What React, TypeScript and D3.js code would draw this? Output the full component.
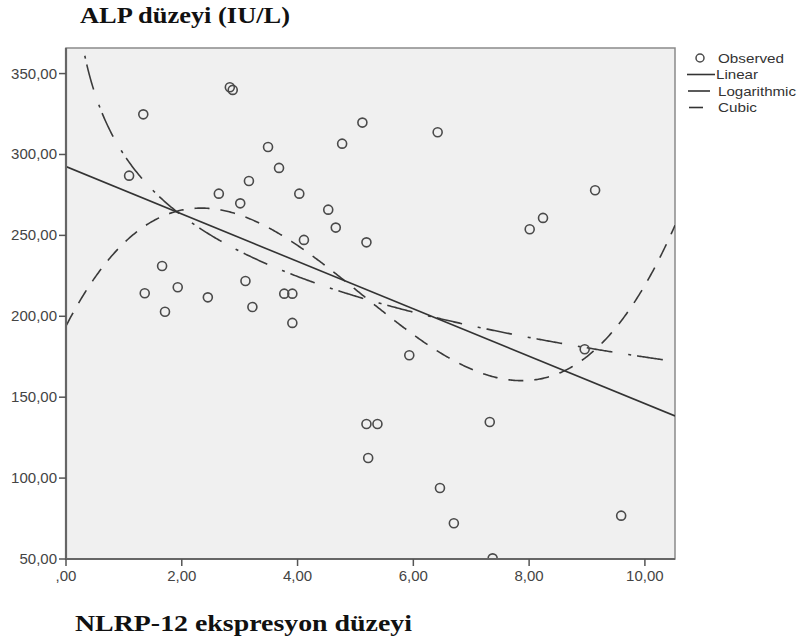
import React from "react";
import * as d3 from "d3";

// Observed points: NLRP-12 expression (x) vs ALP level (y)
const obsX = [1.335, 2.83, 2.88, 5.12, 3.49, 4.77, 3.68, 1.09, 3.16, 2.64, 4.03, 3.01, 4.53, 4.66, 4.11, 5.19, 1.66, 1.36, 1.93, 1.71, 2.45, 3.10, 3.22, 3.77, 3.91, 3.91, 5.19, 5.38, 6.42, 9.14, 8.24, 8.01, 5.93, 8.96, 7.32, 6.46, 6.70, 9.59, 7.37, 5.22];
const obsY = [324.8, 341.5, 339.9, 319.7, 304.6, 306.7, 291.7, 286.9, 283.6, 275.8, 275.8, 269.8, 265.9, 254.8, 247.2, 245.7, 231.1, 214.2, 217.9, 202.8, 211.7, 221.8, 205.7, 214, 214, 195.9, 133.4, 133.4, 313.7, 277.9, 260.8, 253.8, 175.9, 179.6, 134.7, 93.9, 72.1, 76.8, 50.4, 112.4];

// Fitted model coefficients
const linearCoef = [292.5, -14.65]; // a + b x
const logCoef = [299.9, -54.33]; // a + b ln x
const cubicCoef = [194, 69.22, -19.21, 1.254]; // c0 + c1 x + c2 x^2 + c3 x^3

const yTicks = [50, 100, 150, 200, 250, 300, 350];
const xTicks = [0, 2, 4, 6, 8, 10];
const legendLabels = ["Observed", "Linear", "Logarithmic", "Cubic"];

const fmt = (v: number) => {
  const s = v.toFixed(2).replace(".", ",");
  return s.startsWith("0,") ? s.slice(1) : s;
};

export default function App() {
  const W = 798, H = 640;
  const L = 66, R = 675, T = 48, B = 559;
  const x = d3.scaleLinear().domain([0, 10.52]).range([L, R]);
  const y = d3.scaleLinear().domain([50, 365.8]).range([B, T]);

  const samples = d3.range(0.02, 10.52 + 0.001, 0.02);
  const line = d3
    .line<[number, number]>()
    .x((d) => x(d[0]))
    .y((d) => y(d[1]));

  const linPath = line([[0, linearCoef[0]], [10.52, linearCoef[0] + linearCoef[1] * 10.52]]) || "";
  const logPath = line(samples.map((v) => [v, logCoef[0] + logCoef[1] * Math.log(v)] as [number, number])) || "";
  const cubPath =
    line(
      [0, ...samples].map(
        (v) => [v, cubicCoef[0] + cubicCoef[1] * v + cubicCoef[2] * v * v + cubicCoef[3] * v * v * v] as [number, number]
      )
    ) || "";

  const tickFont = "'Liberation Sans', Arial, sans-serif";
  const legendY = [58, 74.5, 91, 107.5];
  const legendLen = [66, 42, 78, 39];

  return (
    <svg width={W} height={H} style={{ position: "absolute", left: 0, top: 0, background: "#fff" }}>
      <defs>
        <clipPath id="plotclip">
          <rect x={L} y={T} width={R - L} height={B - T} />
        </clipPath>
      </defs>
      <rect x={0} y={0} width={W} height={H} fill="#fff" />
      <text x={80} y={23} fontFamily="'Liberation Serif', 'Times New Roman', serif" fontWeight="bold" fontSize={23} fill="#111" textLength={210} lengthAdjust="spacingAndGlyphs">
        ALP düzeyi (IU/L)
      </text>
      <text x={75} y={631} fontFamily="'Liberation Serif', 'Times New Roman', serif" fontWeight="bold" fontSize={24} fill="#111" textLength={337} lengthAdjust="spacingAndGlyphs">
        NLRP-12 ekspresyon düzeyi
      </text>

      <rect x={L} y={T} width={R - L} height={B - T} fill="#f0f0f0" stroke="#8a8a8a" strokeWidth={1.5} />

      <g clipPath="url(#plotclip)">
        <path d={cubPath} fill="none" stroke="#3a3a3a" strokeWidth={1.6} strokeDasharray="15,11" />
        <path d={logPath} fill="none" stroke="#3a3a3a" strokeWidth={1.6} strokeDasharray="26,16,3,6" />
        <path d={linPath} fill="none" stroke="#333" strokeWidth={1.6} />
        {obsX.map((vx, i) => (
          <circle key={i} cx={x(vx)} cy={y(obsY[i])} r={4.5} fill="none" stroke="#4a4a4a" strokeWidth={1.6} />
        ))}
      </g>

      {/* axes */}
      <line x1={L} y1={T} x2={L} y2={B + 1} stroke="#666" strokeWidth={2.2} />
      <line x1={L - 1} y1={B} x2={R} y2={B} stroke="#666" strokeWidth={2.2} />
      {yTicks.map((t) => (
        <g key={"y" + t}>
          <line x1={L - 7} x2={L} y1={y(t)} y2={y(t)} stroke="#555" strokeWidth={1.5} />
          <text x={L - 9} y={y(t) + 5} textAnchor="end" fontFamily={tickFont} fontSize={15} fill="#444">
            {fmt(t)}
          </text>
        </g>
      ))}
      {xTicks.map((t) => (
        <g key={"x" + t}>
          <line x1={x(t)} x2={x(t)} y1={B} y2={B + 7} stroke="#555" strokeWidth={1.5} />
          <text x={x(t)} y={581} textAnchor="middle" fontFamily={tickFont} fontSize={15} fill="#444">
            {fmt(t)}
          </text>
        </g>
      ))}

      {/* legend */}
      <circle cx={700} cy={legendY[0]} r={4} fill="none" stroke="#4a4a4a" strokeWidth={1.5} />
      <line x1={687} x2={715} y1={legendY[1]} y2={legendY[1]} stroke="#333" strokeWidth={1.6} />
      <line x1={688} x2={710} y1={legendY[2]} y2={legendY[2]} stroke="#333" strokeWidth={1.6} />
      <line x1={689} x2={703} y1={legendY[3]} y2={legendY[3]} stroke="#333" strokeWidth={1.6} />
      {legendLabels.map((lab, i) => (
        <text key={lab} x={i === 1 ? 716 : 718} y={legendY[i] + 4.5} fontFamily={tickFont} fontSize={13} fill="#333" textLength={legendLen[i]} lengthAdjust="spacingAndGlyphs">
          {lab}
        </text>
      ))}
    </svg>
  );
}
